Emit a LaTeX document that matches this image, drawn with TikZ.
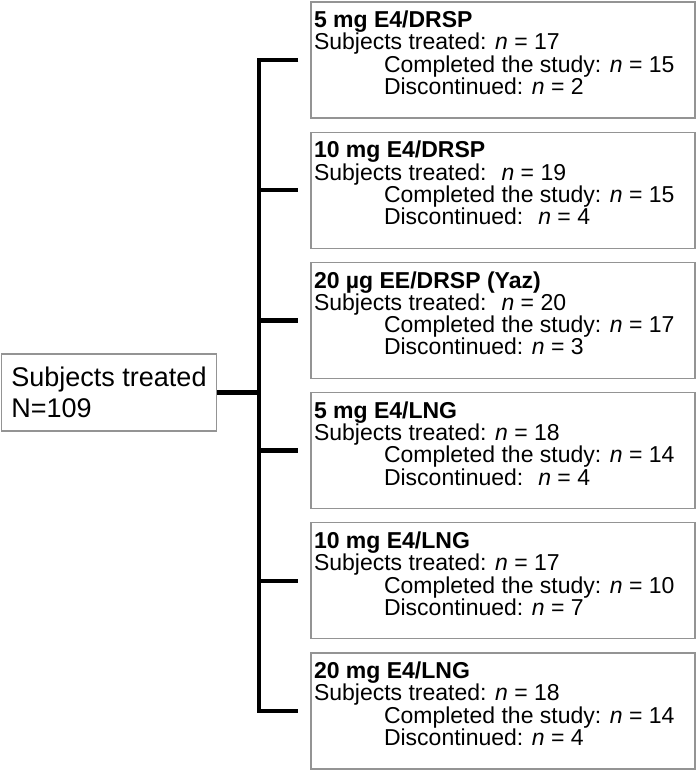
\documentclass[tikz,border=0pt]{standalone}
\usepackage{fontspec}
\setmainfont{Liberation Sans}
\usepackage{tikz}
\usetikzlibrary{positioning}
\tikzset{
    armbox/.style={draw=black!42, line width=1.2pt, rectangle, inner xsep=3pt, inner ysep=9pt},
    rootbox/.style={draw=black!42, line width=1.2pt, rectangle, align=left, minimum width=214pt, minimum height=77pt, inner xsep=10pt, font=\fontsize{27}{31}\selectfont},
    branch/.style={line width=4.5pt},
}
\newcommand{\nn}[1]{\textit{n} = #1}
\newcommand{\armtext}[4]{\parbox[c][98pt][t]{378pt}{\fontsize{23}{22.3}\selectfont
    \textbf{#1}\\
    Subjects treated: #2\\
    \hspace*{70pt}Completed the study: #3\\
    \hspace*{70pt}Discontinued: #4}}

\begin{document}
\begin{tikzpicture}[x=1pt, y=-1pt] % treatment arms
	\useasboundingbox (0,0) rectangle (700,770);
	\node[rootbox] (root) at (109,392.5) {Subjects treated\\N=109};
	\coordinate (spine) at (259,0);
	% the six arms
	\node[armbox] (arm1) at (503,60) {\armtext{5 mg E4/DRSP}{\nn{17}}{\nn{15}}{\nn{2}}};
	\node[armbox, below=13pt of arm1] (arm2) {\armtext{10 mg E4/DRSP}{\ \nn{19}}{\nn{15}}{\ \nn{4}}};
	\node[armbox, below=13pt of arm2] (arm3) {\armtext{20 µg EE/DRSP (Yaz)}{\ \nn{20}}{\nn{17}}{\nn{3}}};
	\node[armbox, below=13pt of arm3] (arm4) {\armtext{5 mg E4/LNG}{\nn{18}}{\nn{14}}{\ \nn{4}}};
	\node[armbox, below=13pt of arm4] (arm5) {\armtext{10 mg E4/LNG}{\nn{17}}{\nn{10}}{\nn{7}}};
	\node[armbox, below=13pt of arm5] (arm6) {\armtext{20 mg E4/LNG}{\nn{18}}{\nn{14}}{\nn{4}}};
	% tree
	\draw[branch] (root.east) -- (spine |- root.east);
	\draw[branch] ([xshift=-12pt]arm1.west) -- (spine |- arm1.west) -- (spine |- arm6.west) -- ([xshift=-12pt]arm6.west);
	\draw[branch] (spine |- arm2.west) -- ([xshift=-12pt]arm2.west);
	\draw[branch] (spine |- arm3.west) -- ([xshift=-12pt]arm3.west);
	\draw[branch] (spine |- arm4.west) -- ([xshift=-12pt]arm4.west);
	\draw[branch] (spine |- arm5.west) -- ([xshift=-12pt]arm5.west);
\end{tikzpicture}
\end{document}
